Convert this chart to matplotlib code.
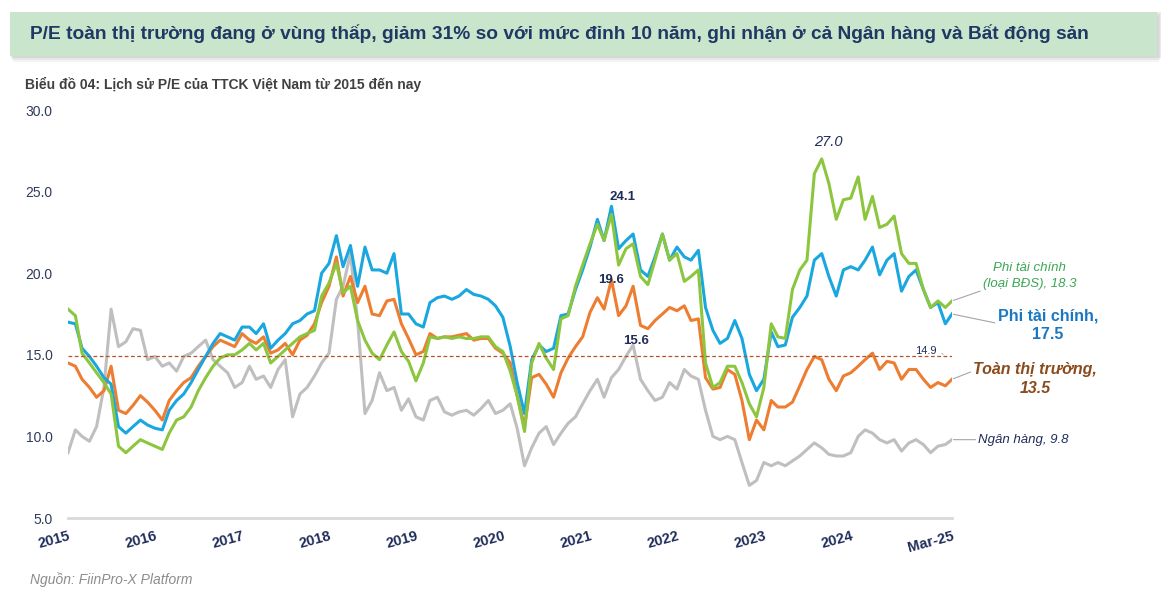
import matplotlib.pyplot as plt
import matplotlib.patches as mpatches
import pandas as pd

plt.rcParams['font.family'] = ['Liberation Sans', 'DejaVu Sans']

# monthly points, Jan-2015 .. Mar-2025
months = pd.date_range('2015-01-01', '2025-03-01', freq='MS')

tick_dates = pd.to_datetime(['2015-01-01', '2016-01-01', '2017-01-01', '2018-01-01', '2019-01-01',
                             '2020-01-01', '2021-01-01', '2022-01-01', '2023-01-01', '2024-01-01',
                             '2025-03-01'])
tick_labels = ['2015', '2016', '2017', '2018', '2019', '2020', '2021', '2022', '2023', '2024', 'Mar-25']

# Phi tai chinh
pe_phi_tc = [17.0, 16.9, 15.4, 14.9, 14.3, 13.6, 13.2, 10.6, 10.2, 10.6, 11.0, 10.7,
             10.5, 10.4, 11.6, 12.2, 12.6, 13.3, 14.1, 14.9, 15.7, 16.3, 16.1, 15.9,
             16.7, 16.7, 16.3, 16.9, 15.4, 15.9, 16.3, 16.9, 17.1, 17.5, 17.7, 20.0,
             20.6, 22.3, 20.4, 21.7, 19.2, 21.6, 20.2, 20.2, 20.0, 21.2, 17.5, 17.5,
             16.9, 16.7, 18.2, 18.5, 18.6, 18.4, 18.6, 19.0, 18.7, 18.6, 18.4, 18.0,
             17.3, 15.5, 13.3, 11.4, 14.7, 15.6, 15.2, 15.4, 17.4, 17.5, 19.0, 20.2,
             21.6, 23.3, 22.0, 24.1, 21.5, 22.0, 22.4, 20.2, 19.8, 21.0, 22.4, 20.8,
             21.6, 21.0, 20.8, 21.4, 17.9, 16.5, 15.7, 16.0, 17.1, 16.0, 13.8, 12.8,
             13.5, 16.4, 15.5, 15.6, 17.3, 17.9, 18.6, 20.8, 21.2, 19.8, 18.6, 20.2,
             20.4, 20.2, 20.8, 21.6, 19.9, 20.8, 21.2, 18.9, 19.8, 20.2, 19.0, 17.9,
             18.2, 16.9, 17.5]

# Phi tai chinh (loai BDS)
pe_phi_tc_bds = [17.8, 17.4, 15.1, 14.5, 13.9, 13.3, 12.6, 9.4, 9.0, 9.4, 9.8, 9.6,
                 9.4, 9.2, 10.2, 11.0, 11.2, 11.8, 12.8, 13.6, 14.3, 14.8, 15.0, 15.0,
                 15.3, 15.7, 15.3, 15.7, 14.5, 14.9, 15.3, 15.7, 16.1, 16.3, 16.5, 18.6,
                 19.4, 20.6, 18.8, 19.2, 17.1, 15.9, 15.1, 14.7, 15.6, 16.4, 15.2, 14.6,
                 13.4, 14.5, 16.1, 16.0, 16.1, 16.0, 16.1, 16.0, 16.0, 16.1, 16.1, 15.5,
                 15.2, 14.0, 12.5, 10.3, 14.5, 15.7, 14.8, 14.1, 17.2, 17.4, 19.2, 20.5,
                 21.8, 23.0, 22.0, 23.6, 20.5, 21.5, 21.8, 19.8, 19.3, 20.8, 22.4, 20.8,
                 21.2, 19.5, 19.8, 20.2, 14.5, 13.0, 13.3, 14.3, 14.3, 13.3, 12.0, 11.2,
                 13.0, 16.9, 16.1, 16.0, 19.0, 20.2, 20.8, 26.1, 27.0, 25.5, 23.3, 24.5,
                 24.6, 25.9, 23.3, 24.7, 22.8, 23.0, 23.5, 21.2, 20.6, 20.6, 19.0, 17.9,
                 18.3, 17.9, 18.3]

# Toan thi truong
pe_toan_tt = [14.5, 14.3, 13.5, 13.0, 12.4, 12.8, 14.3, 11.6, 11.4, 11.9, 12.5, 12.1,
              11.6, 11.0, 12.2, 12.8, 13.3, 13.6, 14.3, 14.9, 15.5, 15.9, 15.7, 15.5,
              16.3, 15.9, 15.7, 16.1, 15.1, 15.3, 15.7, 15.0, 15.9, 16.2, 16.9, 18.2,
              19.2, 21.0, 18.6, 19.8, 18.2, 19.2, 17.5, 17.4, 18.3, 18.4, 16.9, 16.0,
              15.0, 15.2, 16.3, 16.0, 16.1, 16.1, 16.2, 16.3, 15.9, 16.0, 16.0, 15.4,
              15.1, 14.5, 12.5, 10.6, 13.6, 13.8, 13.2, 12.4, 13.9, 14.8, 15.5, 16.1,
              17.6, 18.5, 17.8, 19.6, 17.4, 18.0, 19.2, 16.8, 16.6, 17.1, 17.5, 17.9,
              17.7, 18.0, 17.1, 17.2, 13.6, 12.9, 13.0, 14.1, 13.8, 12.2, 9.8, 11.0,
              10.4, 12.2, 11.8, 11.8, 12.1, 13.1, 14.1, 14.9, 14.7, 13.5, 12.8, 13.7,
              13.9, 14.3, 14.7, 15.1, 14.1, 14.6, 14.5, 13.5, 14.1, 14.1, 13.5, 13.0,
              13.3, 13.1, 13.5]

# Ngan hang
pe_ngan_hang = [9.0, 10.4, 10.0, 9.7, 10.6, 13.0, 17.8, 15.5, 15.8, 16.6, 16.5, 14.7,
                14.9, 14.3, 14.5, 14.0, 14.9, 15.1, 15.5, 15.9, 14.7, 14.3, 13.9, 13.0,
                13.3, 14.3, 13.5, 13.7, 13.0, 14.1, 14.7, 11.2, 12.6, 13.0, 13.7, 14.5,
                15.1, 18.4, 19.2, 21.2, 17.1, 11.4, 12.2, 13.9, 12.8, 13.0, 11.6, 12.3,
                11.2, 11.0, 12.2, 12.4, 11.5, 11.3, 11.5, 11.6, 11.3, 11.7, 12.2, 11.4,
                11.6, 12.0, 10.5, 8.2, 9.3, 10.2, 10.6, 9.5, 10.2, 10.8, 11.2, 12.0,
                12.8, 13.5, 12.4, 13.6, 14.1, 14.9, 15.6, 13.5, 12.8, 12.2, 12.4, 13.3,
                12.9, 14.1, 13.7, 13.5, 11.6, 10.0, 9.8, 10.0, 9.8, 8.4, 7.0, 7.3,
                8.4, 8.2, 8.4, 8.2, 8.5, 8.8, 9.2, 9.6, 9.3, 8.9, 8.8, 8.8,
                9.0, 10.0, 10.4, 10.2, 9.8, 9.6, 9.8, 9.1, 9.6, 9.8, 9.5, 9.0,
                9.4, 9.5, 9.8]

pe_avg_10y = 14.9

navy = '#1f2d5a'
c_blue = '#1aa7e0'
c_green = '#8cc63f'
c_orange = '#ed7d31'
c_gray = '#bfbfbf'

fig = plt.figure(figsize=(11.75, 5.96), dpi=100)

# title banner with soft shadow
for k, a in enumerate([0.10, 0.14, 0.20]):
    fig.patches.append(mpatches.Rectangle(((13 - k) / 1175, 1 - (62 - 2 * k) / 596), (1146 + 2 * k) / 1175,
                                          46 / 596, transform=fig.transFigure, color='#9a9a9a',
                                          alpha=a, lw=0, zorder=0))
fig.patches.append(mpatches.Rectangle((10 / 1175, 1 - 56 / 596), 1147 / 1175, 44 / 596,
                                      transform=fig.transFigure, color='#c9e6cc', lw=0, zorder=1))
fig.text(30 / 1175, 1 - 34 / 596,
         'P/E toàn thị trường đang ở vùng thấp, giảm 31% so với mức đỉnh 10 năm, ghi nhận ở cả Ngân hàng và Bất động sản',
         fontsize=13.8, fontweight='bold', color='#1f3864', va='center', ha='left')
fig.text(25 / 1175, 1 - 84 / 596, 'Biểu đồ 04: Lịch sử P/E của TTCK Việt Nam từ 2015 đến nay',
         fontsize=10, fontweight='bold', color='#404040', va='center', ha='left')
fig.text(30 / 1175, 1 - 580 / 596, 'Nguồn: FiinPro-X Platform',
         fontsize=10, style='italic', color='#8c8c8c', va='center', ha='left')

ax = fig.add_axes([68 / 1175, 78 / 596, 884 / 1175, 408 / 596])

ax.plot(months, pe_ngan_hang, color=c_gray, lw=2.2, zorder=2)
ax.plot(months, pe_toan_tt, color=c_orange, lw=2.2, zorder=3)
ax.plot(months, pe_phi_tc, color=c_blue, lw=2.2, zorder=4)
ax.plot(months, pe_phi_tc_bds, color=c_green, lw=2.2, zorder=5)
ax.axhline(pe_avg_10y, color='#b4532a', lw=0.9, dashes=(3, 2), zorder=6)

ax.set_ylim(5, 30)
ax.set_xlim(months[0], months[-1])
ax.set_yticks([5, 10, 15, 20, 25, 30])
ax.set_yticklabels(['5.0', '10.0', '15.0', '20.0', '25.0', '30.0'])
ax.set_xticks(tick_dates)
ax.set_xticklabels(tick_labels, rotation=15, ha='right', rotation_mode='anchor',
                   fontweight='bold', fontsize=10.5, color=navy)
ax.tick_params(axis='y', length=0, pad=11, labelsize=10, labelcolor='#2f3b5c')
ax.tick_params(axis='x', length=0, pad=8)
for s in ['top', 'right', 'left']:
    ax.spines[s].set_visible(False)
ax.spines['bottom'].set_color('#d9d9d9')
ax.spines['bottom'].set_linewidth(2)

# peak labels
i_bds = pe_phi_tc_bds.index(max(pe_phi_tc_bds))
ax.annotate('27.0', (months[i_bds], pe_phi_tc_bds[i_bds]), xytext=(5, 12), textcoords='offset points',
            ha='center', va='center', fontsize=10.5, style='italic', color=navy)
i_tc = pe_phi_tc.index(max(pe_phi_tc))
ax.annotate('24.1', (months[i_tc], pe_phi_tc[i_tc]), xytext=(8, 7), textcoords='offset points',
            ha='center', va='center', fontsize=9.5, fontweight='bold', color=navy)
i_tt = pe_toan_tt.index(19.6)
ax.annotate('19.6', (months[i_tt], pe_toan_tt[i_tt]), xytext=(0, 0), textcoords='offset points',
            ha='center', va='center', fontsize=9.5, fontweight='bold', color=navy)
i_nh = pe_ngan_hang.index(15.6)
ax.annotate('15.6', (months[i_nh], pe_ngan_hang[i_nh]), xytext=(2, 3), textcoords='offset points',
            ha='center', va='center', fontsize=9.5, fontweight='bold', color=navy)
ax.annotate('14.9', (months[-2], pe_avg_10y), xytext=(-14, 4), textcoords='offset points',
            ha='center', va='center', fontsize=8, color=navy,
            arrowprops=dict(arrowstyle='-', color='#a6a6a6', lw=0.6, connectionstyle='arc3,rad=-0.3'))

# end labels
ax.annotate('Phi tài chính\n(loại BĐS), 18.3', (months[-1], pe_phi_tc_bds[-1]), xytext=(56, 18),
            textcoords='offset points', ha='center', va='center', fontsize=9.5, style='italic',
            color='#3aa655', linespacing=1.35, annotation_clip=False,
            arrowprops=dict(arrowstyle='-', color='#a6a6a6', lw=0.8, relpos=(0.1, 0.1), shrinkA=0, shrinkB=1))
ax.annotate('Phi tài chính,\n17.5', (months[-1], pe_phi_tc[-1]), xytext=(69, -8),
            textcoords='offset points', ha='center', va='center', fontsize=11.5, fontweight='bold',
            color='#1a78c2', linespacing=1.3, annotation_clip=False,
            arrowprops=dict(arrowstyle='-', color='#a6a6a6', lw=0.8, relpos=(0, 0.55), shrinkA=0, shrinkB=1))
ax.annotate('Toàn thị trường,\n13.5', (months[-1], pe_toan_tt[-1]), xytext=(60, 0),
            textcoords='offset points', ha='center', va='center', fontsize=11.5, fontweight='bold',
            style='italic', color='#8a4a1c', linespacing=1.3, annotation_clip=False,
            arrowprops=dict(arrowstyle='-', color='#a6a6a6', lw=0.8, relpos=(0, 0.75), shrinkA=0, shrinkB=1))
ax.annotate('Ngân hàng, 9.8', (months[-1], pe_ngan_hang[-1]), xytext=(19, 0),
            textcoords='offset points', ha='left', va='center', fontsize=9.5, style='italic',
            color=navy, annotation_clip=False,
            arrowprops=dict(arrowstyle='-', color='#a6a6a6', lw=0.8, shrinkA=0, shrinkB=1))

fig.savefig('out.png', dpi=100)
